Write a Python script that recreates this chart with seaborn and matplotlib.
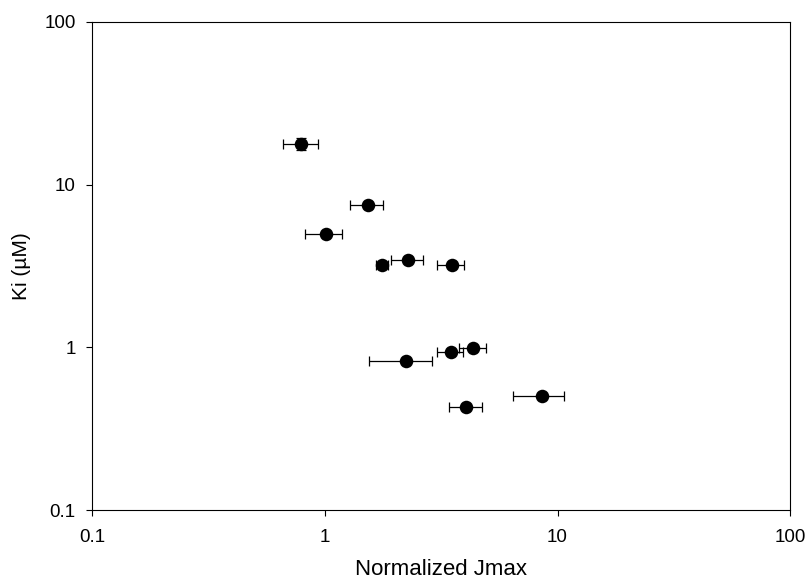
import matplotlib
matplotlib.use("Agg")
import matplotlib.pyplot as plt
import seaborn as sns
import pandas as pd
from matplotlib.ticker import FixedLocator, FixedFormatter, NullLocator

# values
jmax = [0.79, 1.53, 1.01, 1.76, 2.27, 3.51, 2.22, 3.48, 4.33, 8.55, 4.05]
jmax_lo = [0.66, 1.28, 0.82, 1.65, 1.92, 3.04, 1.54, 3.02, 3.76, 6.42, 3.42]
jmax_hi = [0.93, 1.77, 1.18, 1.87, 2.63, 3.96, 2.89, 3.93, 4.93, 10.67, 4.72]
ki = [17.8, 7.54, 5.00, 3.21, 3.44, 3.22, 0.82, 0.94, 0.99, 0.50, 0.43]
ki_err = [1.5, 0, 0, 0, 0, 0, 0, 0, 0, 0, 0]

tick_vals = [0.1, 1, 10, 100]
tick_labels = ["0.1", "1", "10", "100"]

df = pd.DataFrame({"jmax": jmax, "ki": ki})

sns.set_style("ticks")
plt.rcParams['font.family'] = ['Liberation Sans', 'DejaVu Sans']
plt.rcParams['text.color'] = 'black'
plt.rcParams['axes.labelcolor'] = 'black'

fig = plt.figure(figsize=(8.07, 5.83), dpi=100)
ax = fig.add_axes([0.1146, 0.1252, 0.979 - 0.1146, 0.9623 - 0.1252])

xerr = [[j - lo for j, lo in zip(jmax, jmax_lo)],
        [hi - j for j, hi in zip(jmax, jmax_hi)]]
ax.errorbar(jmax, ki, xerr=xerr, yerr=ki_err, fmt='none', ecolor='black',
            elinewidth=0.9, capsize=3.8, capthick=0.9, zorder=2)
sns.scatterplot(data=df, x="jmax", y="ki", ax=ax, color='black', s=95,
                edgecolor='black', linewidth=0, zorder=3, legend=False)

ax.set_xscale('log')
ax.set_yscale('log')
ax.set_xlim(0.1, 100)
ax.set_ylim(0.1, 100)
for axis in (ax.xaxis, ax.yaxis):
    axis.set_major_locator(FixedLocator(tick_vals))
    axis.set_major_formatter(FixedFormatter(tick_labels))
    axis.set_minor_locator(NullLocator())

for s in ax.spines.values():
    s.set_visible(True)
    s.set_color('black')
    s.set_linewidth(0.8)

ax.tick_params(axis='both', which='major', direction='out', length=4,
               width=0.8, labelsize=13.5, colors='black')
ax.tick_params(axis='x', pad=10)
ax.tick_params(axis='y', pad=8)
ax.set_xlabel("Normalized Jmax", fontsize=16, labelpad=9, color='black')
ax.set_ylabel("Ki (\u00b5M)", fontsize=15, labelpad=10, color='black')

fig.savefig("out.png", dpi=100)
